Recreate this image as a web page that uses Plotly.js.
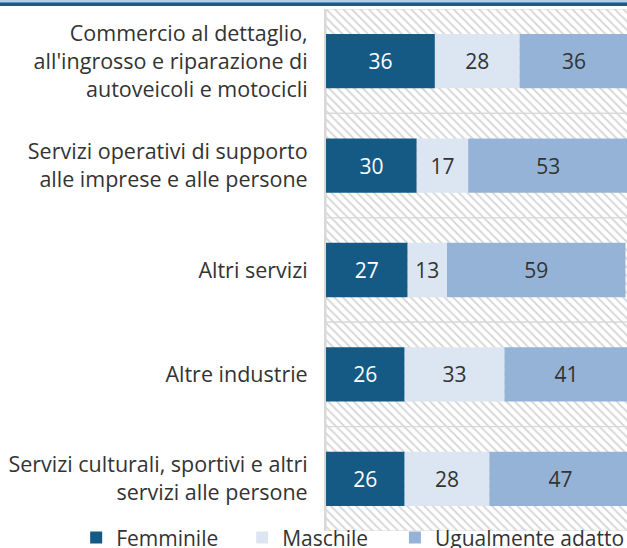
<!DOCTYPE html>
<html>
<head>
<meta charset="utf-8">
<script src="https://cdn.plot.ly/plotly-3.0.1.min.js"></script>
<style>html,body{margin:0;padding:0;background:#fff;}#chart{width:627px;height:548px;}</style>
</head>
<body>
<div id="chart"></div>
<script>
const categories = [
  "Commercio al dettaglio,<br>all'ingrosso e riparazione di<br>autoveicoli e motocicli",
  "Servizi operativi di supporto<br>alle imprese e alle persone",
  "Altri servizi",
  "Altre industrie",
  "Servizi culturali, sportivi e altri<br>servizi alle persone"
];
const femminile = [36, 30, 27, 26, 26];
const maschile = [28, 17, 13, 33, 28];
const ugualmente = [36, 53, 59, 41, 47];
const seriesNames = ["Femminile", "Maschile", "Ugualmente adatto"];

const FONT = "'Open Sans', sans-serif";
const baseM = femminile.slice();
const baseU = femminile.map((v, i) => v + maschile[i]);

const background = {
  type: 'bar', orientation: 'h', y: categories, x: categories.map(() => 100), base: 0,
  width: 1, showlegend: false, hoverinfo: 'skip',
  marker: { color: '#ffffff', line: { color: '#d9d9d9', width: 1.2 },
    pattern: { shape: '\\', fgcolor: '#d4d4d4', bgcolor: '#ffffff', size: 6, solidity: 0.3 } }
};
function series(name, vals, base, color, txtColor, legendRef) {
  return {
    type: 'bar', orientation: 'h', name: name, y: categories, x: vals, base: base,
    width: 0.52, text: vals.map(String), textposition: 'inside', insidetextanchor: 'middle',
    textangle: 0, constraintext: 'none', legend: legendRef,
    textfont: { family: FONT, size: 21, color: txtColor },
    marker: { color: color, line: { width: 0 } }, hoverinfo: 'x+name'
  };
}
const data = [
  background,
  series(seriesNames[0], femminile, 0, '#155a85', '#ffffff', 'legend'),
  series(seriesNames[1], maschile, baseM, '#dce6f2', '#333333', 'legend'),
  series(seriesNames[2], ugualmente, baseU, '#95b3d7', '#333333', 'legend2')
];
const legendFont = { family: FONT, size: 21, color: '#333333' };
const layout = {
  width: 627, height: 548,
  margin: { l: 326, r: 0, t: 9, b: 17, autoexpand: false },
  paper_bgcolor: '#ffffff', plot_bgcolor: '#ffffff',
  barmode: 'overlay',
  font: { family: FONT, size: 21, color: '#333333' },
  xaxis: { range: [0, 99.5], showgrid: false, zeroline: false, showticklabels: false, ticks: '', fixedrange: true },
  yaxis: { autorange: 'reversed', showgrid: false, zeroline: false, ticks: 'outside', ticklen: 12,
    tickcolor: 'rgba(0,0,0,0)', tickfont: { family: FONT, size: 21.5, color: '#333333' },
    showline: true, linecolor: '#d9d9d9', linewidth: 2, fixedrange: true },
  legend: { orientation: 'h', x: -0.830, xanchor: 'left', y: -0.013, yanchor: 'middle',
    font: legendFont, traceorder: 'normal',
    entrywidth: 121, entrywidthmode: 'pixels', itemwidth: 30, bgcolor: 'rgba(0,0,0,0)' },
  legend2: { orientation: 'h', x: 0.229, xanchor: 'left', y: -0.013, yanchor: 'middle',
    font: legendFont, itemwidth: 30, bgcolor: 'rgba(0,0,0,0)' },
  shapes: [
    { type: 'rect', xref: 'paper', yref: 'paper', x0: -1.1, x1: 1.1, ysizemode: 'pixel', yanchor: 1,
      y0: 6, y1: 9, fillcolor: '#b8cce4', line: { width: 0 } },
    { type: 'rect', xref: 'paper', yref: 'paper', x0: -1.1, x1: 1.1, ysizemode: 'pixel', yanchor: 1,
      y0: 3, y1: 6.5, fillcolor: '#1a5a85', line: { width: 0 } }
  ]
};
Plotly.newPlot('chart', data, layout, { displayModeBar: false, staticPlot: true });
</script>
</body>
</html>
